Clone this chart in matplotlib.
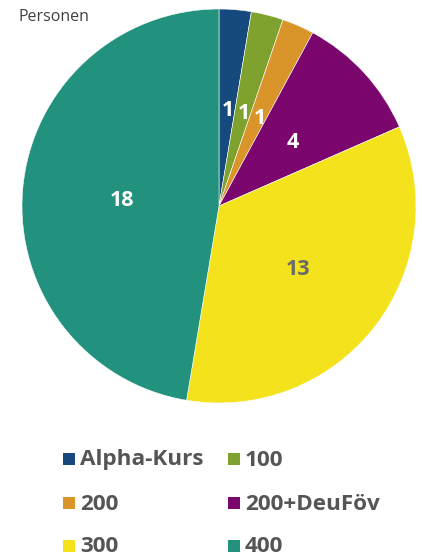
import matplotlib
matplotlib.use("Agg")
import matplotlib.pyplot as plt
from matplotlib.patches import Rectangle
from matplotlib.transforms import offset_copy

categories = ["Alpha-Kurs", "100", "200", "200+DeuFöv", "300", "400"]
values = [1, 1, 1, 4, 13, 18]
colors = ["#164a7e", "#7fa22e", "#d9942a", "#7b066d", "#f4e31c", "#22917d"]
label_colors = ["white", "white", "white", "white", "#6b6b6b", "white"]
title = "Personen"

W, H = 422, 558
fig = plt.figure(figsize=(W / 100, H / 100), dpi=100)

cx, cy, r = 219, 206, 197
ax = fig.add_axes([(cx - r) / W, (H - cy - r) / H, 2 * r / W, 2 * r / H])
wedges, texts = ax.pie(values, colors=colors, startangle=90, counterclock=False,
                       labels=[str(v) for v in values], labeldistance=0.5,
                       wedgeprops=dict(edgecolor="white", linewidth=0.4))
for t, c in zip(texts, label_colors):
    t.set_color(c)
    t.set_fontsize(15.5)
    t.set_fontweight("bold")
    t.set_family("Open Sans")
    t.set_ha("center")
    t.set_va("center")
    t.set_transform(offset_copy(ax.transData, fig=fig, x=1, y=-3, units="dots"))
ax.set_xlim(-1, 1)
ax.set_ylim(-1, 1)
ax.set_aspect("equal")
ax.axis("off")

fig.text(19 / W, 1 - 17 / H, title, fontsize=11.5, color="#404040",
         family="Open Sans", ha="left", va="center")

# legend, row-wise
col_x = [63, 228]
row_y = [459, 503, 546]
sq = 12
for i, (lab, col) in enumerate(zip(categories, colors)):
    row, c = divmod(i, 2)
    x = col_x[c]
    y = row_y[row]
    fig.patches.append(Rectangle((x / W, 1 - (y + sq / 2) / H), sq / W, sq / H,
                                 transform=fig.transFigure, facecolor=col,
                                 edgecolor="none"))
    fig.text((x + sq + 5) / W, 1 - (y + 1) / H, lab, fontsize=16.2, fontweight="bold",
             color="#555555", family="Open Sans", ha="left", va="center")

fig.savefig("out.png", dpi=100)
